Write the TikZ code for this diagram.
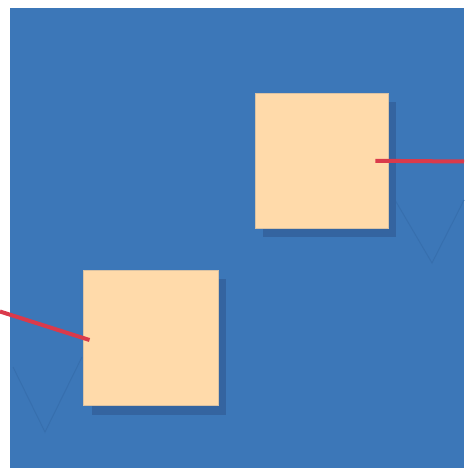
\documentclass[tikz,border=0pt]{standalone}
\begin{document}
\begin{tikzpicture}[x=1pt,y=-1pt,
  bg/.style={fill=bgblue},
  card/.style={draw=cardedge,line width=0.6pt,fill=peach,anchor=north west,inner sep=0pt,outer sep=0pt},
  cardshadow/.style={fill=shadowblue},
  redlink/.style={draw=linkred,line width=4pt},
  faint/.style={draw=faintblue,line width=1pt}]
\definecolor{bgblue}{HTML}{3C77B8}
\definecolor{peach}{HTML}{FFDAAA}
\definecolor{cardedge}{HTML}{D9C2A4}
\definecolor{shadowblue}{HTML}{3464A0}
\definecolor{linkred}{HTML}{DA3A4B}
\definecolor{faintblue}{HTML}{376FAE}
\useasboundingbox (0,0) rectangle (464,468);
\fill[white] (0,0) rectangle (464,468);
\path[bg] (9.5,8) rectangle (464,468);
% faint V marks
\coordinate (va1) at (13,367);
\coordinate (va2) at (45,432);
\coordinate (va3) at (82,357);
\coordinate (vb1) at (395,200);
\coordinate (vb2) at (432,263);
\coordinate (vb3) at (464,200);
\draw[faint] (va1) -- (va2) -- (va3);
\draw[faint] (vb1) -- (vb2) -- (vb3);
% shadows
\path[cardshadow] (263,102) rectangle (396,237);
\path[cardshadow] (92,279) rectangle (226,414.5);
% cards
\node[card,minimum width=133.5pt,minimum height=135pt] (boxA) at (254.8,93.3) {};
\node[card,minimum width=135.7pt,minimum height=135.4pt] (boxB) at (83,270.3) {};
% red links
\coordinate (aIn) at ([xshift=-13pt]boxA.east);
\coordinate (aOut) at (464,161.5);
\coordinate (bOut) at (0,311.5);
\coordinate (bIn) at (89.5,340);
\draw[redlink] (aIn) -- (aOut);
\draw[redlink] (bOut) -- (bIn);
\end{tikzpicture}
\end{document}
